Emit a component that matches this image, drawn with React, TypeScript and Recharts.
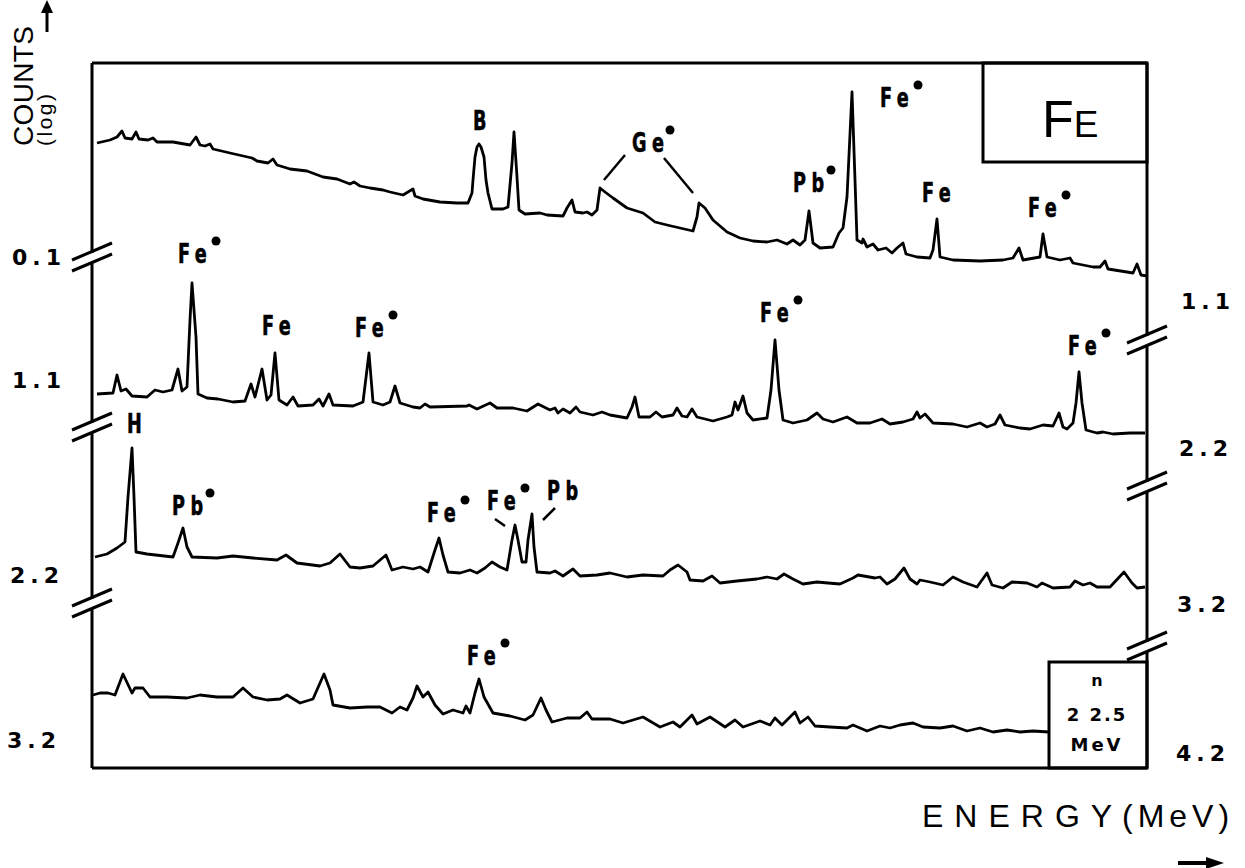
import React from 'react';
import { LineChart, Line, XAxis, YAxis, ReferenceLine, ReferenceArea, ReferenceDot } from 'recharts';

// channel axis (energy) and stacked log-count axis
const CHANNEL_MAX = 1055;
const COUNT_MAX = 705;

// each strip: [channel, log counts above the strip floor]
const strip1 = [
  [5, 137], [18, 140], [25, 143], [30, 149], [33, 142], [40, 141], [44, 148], [47, 141], [56, 140], [61, 142],
  [65, 138], [81, 138], [98, 135], [104, 143], [108, 135], [113, 134], [118, 136], [121, 131], [138, 127], [160, 122],
  [165, 119], [176, 117], [181, 121], [185, 115], [198, 111], [215, 109], [231, 103], [245, 101], [258, 96], [262, 98],
  [268, 94], [278, 92], [291, 90], [298, 88], [311, 85], [321, 91], [323, 84], [331, 81], [348, 78], [365, 77],
  [376, 77], [380, 87], [381, 100], [383, 123], [385, 133], [387, 136], [389, 133], [392, 123], [394, 100], [396, 87],
  [400, 71], [411, 71], [416, 73], [420, 117], [422, 148], [425, 103], [427, 70], [433, 66], [448, 67], [455, 65],
  [471, 64], [475, 72], [480, 80], [483, 68], [491, 67], [495, 68], [500, 65], [505, 70], [508, 92], [513, 88],
  [521, 82], [535, 72], [551, 67], [563, 58], [575, 55], [588, 52], [601, 49], [605, 63], [607, 77], [613, 72],
  [621, 60], [635, 48], [648, 42], [661, 39], [675, 38], [685, 40], [695, 36], [701, 40], [708, 35], [713, 40],
  [717, 69], [721, 37], [728, 32], [741, 33], [747, 47], [751, 52], [755, 83], [760, 188], [763, 100], [765, 40],
  [770, 37], [771, 41], [775, 33], [781, 36], [786, 30], [794, 32], [800, 27], [805, 32], [811, 37], [814, 26],
  [825, 23], [838, 22], [841, 30], [845, 61], [848, 23], [861, 20], [888, 19], [911, 20], [921, 22], [927, 32],
  [931, 20], [948, 23], [951, 46], [955, 23], [968, 20], [978, 22], [981, 17], [1001, 13], [1008, 13], [1013, 19],
  [1016, 11], [1035, 8], [1041, 7], [1045, 16], [1049, 5], [1055, 4],
];

const strip2 = [
  [5, 46], [21, 47], [25, 65], [29, 49], [34, 51], [40, 44], [55, 43], [63, 50], [71, 48], [80, 50],
  [86, 71], [90, 49], [95, 53], [98, 120], [100, 157], [104, 103], [106, 46], [115, 42], [126, 41], [141, 38],
  [153, 39], [159, 56], [163, 43], [170, 71], [175, 40], [179, 45], [183, 87], [187, 40], [195, 35], [201, 43],
  [206, 34], [221, 35], [227, 41], [231, 34], [237, 46], [241, 35], [261, 34], [271, 38], [277, 87], [281, 38],
  [291, 35], [298, 38], [303, 54], [308, 37], [321, 33], [328, 32], [333, 36], [338, 33], [375, 34], [377, 35],
  [385, 31], [398, 37], [405, 32], [421, 32], [435, 29], [446, 36], [458, 30], [463, 32], [466, 27], [471, 31],
  [478, 27], [484, 33], [488, 28], [501, 25], [510, 28], [518, 25], [535, 22], [540, 33], [543, 43], [547, 23],
  [558, 23], [564, 28], [570, 23], [581, 25], [585, 32], [590, 24], [595, 23], [600, 31], [605, 23], [621, 19],
  [635, 23], [640, 25], [643, 38], [646, 30], [651, 44], [655, 27], [661, 20], [675, 22], [679, 50], [683, 100],
  [687, 50], [691, 20], [701, 17], [715, 20], [725, 27], [731, 21], [741, 18], [755, 23], [765, 17], [778, 17],
  [790, 21], [798, 16], [811, 18], [821, 21], [825, 28], [828, 22], [833, 26], [841, 17], [861, 16], [875, 13],
  [888, 17], [895, 13], [903, 16], [908, 25], [913, 15], [928, 12], [938, 11], [951, 15], [961, 14], [967, 27],
  [971, 13], [975, 11], [981, 17], [984, 37], [987, 68], [990, 37], [994, 10], [1005, 7], [1011, 8], [1021, 6],
  [1038, 7], [1053, 7],
];

const strip3 = [
  [3, 33], [15, 36], [25, 42], [33, 48], [36, 93], [40, 142], [42, 93], [44, 38], [55, 36], [81, 33],
  [86, 47], [91, 62], [95, 43], [100, 33], [125, 32], [141, 34], [161, 32], [185, 30], [194, 35], [205, 27],
  [228, 24], [238, 27], [248, 36], [258, 23], [268, 22], [281, 24], [294, 35], [300, 20], [311, 23], [321, 21],
  [328, 23], [336, 18], [343, 40], [347, 52], [351, 35], [356, 18], [368, 17], [378, 20], [385, 17], [393, 22],
  [400, 28], [408, 23], [415, 20], [420, 50], [423, 65], [426, 50], [430, 28], [434, 28], [436, 50], [440, 76],
  [442, 43], [445, 18], [458, 17], [463, 19], [471, 14], [481, 21], [488, 14], [505, 15], [518, 17], [535, 13],
  [551, 15], [571, 14], [578, 20], [586, 25], [595, 18], [598, 10], [611, 9], [620, 14], [628, 7], [645, 9],
  [665, 11], [675, 13], [685, 11], [692, 16], [701, 11], [711, 6], [725, 8], [736, 7], [748, 6], [761, 12],
  [766, 15], [783, 12], [788, 13], [795, 6], [803, 11], [812, 22], [818, 11], [825, 6], [828, 10], [838, 8],
  [851, 5], [861, 13], [871, 8], [885, 3], [895, 17], [900, 5], [911, 2], [920, 8], [935, 7], [945, 3],
  [950, 7], [961, 2], [978, 3], [983, 9], [991, 5], [998, 7], [1005, 3], [1018, 3], [1032, 18], [1040, 7],
  [1045, 2], [1053, 3],
];

const strip4 = [
  [1, 45], [8, 47], [16, 47], [23, 45], [31, 66], [40, 47], [43, 52], [51, 52], [58, 43], [75, 43],
  [95, 42], [108, 45], [125, 43], [141, 43], [151, 52], [161, 43], [175, 40], [188, 41], [195, 45], [208, 37],
  [221, 41], [228, 57], [232, 66], [238, 50], [241, 35], [258, 32], [275, 33], [288, 33], [300, 27], [308, 33],
  [315, 30], [321, 42], [325, 54], [331, 43], [336, 48], [343, 35], [351, 26], [361, 30], [371, 27], [374, 34],
  [378, 27], [383, 47], [387, 61], [392, 43], [401, 27], [418, 24], [433, 20], [441, 25], [449, 42], [454, 30],
  [460, 18], [475, 22], [488, 22], [495, 28], [500, 21], [518, 21], [531, 17], [551, 23], [568, 13], [581, 18],
  [588, 13], [600, 25], [605, 16], [618, 23], [633, 13], [643, 20], [651, 13], [668, 19], [678, 15], [683, 22],
  [690, 15], [703, 28], [708, 17], [716, 23], [723, 14], [738, 13], [755, 12], [761, 15], [775, 9], [788, 14],
  [798, 12], [808, 15], [821, 17], [831, 13], [848, 12], [861, 14], [875, 9], [888, 12], [901, 8], [915, 10],
  [928, 8], [941, 9], [957, 8],
];

const STRIPS = [strip1, strip2, strip3, strip4];
const STRIP_OFFSETS = [488, 328, 178, 28];

// peak identifications: text, channel, count level of text baseline, excited state marker
const peakLabels = [
  { text: 'B', ch: 381, v: 638, star: false },
  { text: 'Ge', ch: 540, v: 616, star: true },
  { text: 'Pb', ch: 701, v: 576, star: true },
  { text: 'Fe', ch: 788, v: 661, star: true },
  { text: 'Fe', ch: 830, v: 566, star: false },
  { text: 'Fe', ch: 936, v: 551, star: true },
  { text: 'Fe', ch: 86, v: 505, star: true },
  { text: 'Fe', ch: 170, v: 433, star: false },
  { text: 'Fe', ch: 263, v: 431, star: true },
  { text: 'Fe', ch: 668, v: 446, star: true },
  { text: 'Fe', ch: 976, v: 413, star: true },
  { text: 'H', ch: 35, v: 335, star: false },
  { text: 'Pb', ch: 80, v: 253, star: true },
  { text: 'Fe', ch: 335, v: 246, star: true },
  { text: 'Fe', ch: 395, v: 258, star: true },
  { text: 'Pb', ch: 455, v: 268, star: false },
  { text: 'Fe', ch: 375, v: 103, star: true },
];

const leaderLines = [
  [[533, 613], [512, 588]],
  [[572, 610], [601, 575]],
  [[403, 249], [413, 242]],
  [[463, 260], [451, 248]],
];

const leftLevels = ['0.1', '1.1', '2.2', '3.2'];
const rightLevels = ['1.1', '2.2', '3.2', '4.2'];

const LEFT_LABEL_POS = [[12, 265], [12, 388], [10, 583], [7, 748]];
const RIGHT_LABEL_POS = [[1181, 309], [1179, 456], [1177, 612], [1176, 761]];
const LEFT_BREAKS = [257, 427, 603];
const RIGHT_BREAKS = [340, 486, 646];

const LABEL_FONT = "'DejaVu Sans', sans-serif";

const PeakLabel = ({ cx, cy, text, star }: any) => {
  const w = text.length === 1 ? 13 : 30;
  return (
    <g>
      <text
        transform={`translate(${cx} ${cy}) scale(0.68 1)`}
        fontFamily={LABEL_FONT}
        fontWeight="bold"
        fontSize={26}
        letterSpacing={8}
        fill="#000"
        stroke="#000"
        strokeWidth={0.6}
      >
        {text}
      </text>
      {star && <circle cx={cx + w + 8} cy={cy - 22} r={4.5} fill="#000" />}
    </g>
  );
};

const AxisBreak = ({ x, y }: { x: number; y: number }) => (
  <g>
    <rect x={x - 4} y={y - 4} width={8} height={9} fill="#fff" />
    <line x1={x - 20} y1={y + 3} x2={x + 20} y2={y - 14} stroke="#000" strokeWidth={3} />
    <line x1={x - 20} y1={y + 14} x2={x + 20} y2={y - 3} stroke="#000" strokeWidth={3} />
  </g>
);

export default function App() {
  const frame = { stroke: '#000', strokeWidth: 3 };
  return (
    <div style={{ position: 'absolute', left: 0, top: 0, width: 1245, height: 868, background: '#fff' }}>
      <LineChart width={1245} height={868} margin={{ top: 63, right: 98, bottom: 100, left: 92 }}>
        <XAxis type="number" dataKey="ch" domain={[0, CHANNEL_MAX]} allowDataOverflow hide />
        <YAxis type="number" domain={[0, COUNT_MAX]} allowDataOverflow hide />
        <ReferenceLine y={COUNT_MAX} {...frame} />
        <ReferenceLine y={0} {...frame} />
        <ReferenceLine x={0} {...frame} />
        <ReferenceLine x={CHANNEL_MAX} {...frame} />
        <ReferenceArea x1={891} x2={CHANNEL_MAX} y1={606} y2={COUNT_MAX} fill="#fff" fillOpacity={1} {...frame} />
        <ReferenceArea x1={957} x2={CHANNEL_MAX} y1={0} y2={106} fill="#fff" fillOpacity={1} {...frame} />
        {STRIPS.map((pts, i) => (
          <Line
            key={i}
            data={pts.map(([ch, c]) => ({ ch, v: c + STRIP_OFFSETS[i] }))}
            dataKey="v"
            type="linear"
            stroke="#000"
            strokeWidth={2.8}
            strokeLinejoin="round"
            dot={false}
            isAnimationActive={false}
          />
        ))}
        {leaderLines.map(([a, b], i) => (
          <ReferenceLine key={i} segment={[{ x: a[0], y: a[1] }, { x: b[0], y: b[1] }]} stroke="#000" strokeWidth={2.5} />
        ))}
        {peakLabels.map((l, i) => (
          <ReferenceDot
            key={i}
            x={l.ch}
            y={l.v}
            r={0}
            shape={(p: any) => <PeakLabel cx={p.cx} cy={p.cy} text={l.text} star={l.star} />}
          />
        ))}
        <ReferenceDot
          x={950}
          y={631}
          r={0}
          shape={(p: any) => (
            <text x={p.cx} y={p.cy} fontFamily="'Liberation Sans', Arial, sans-serif" fill="#000">
              <tspan fontSize={52}>F</tspan>
              <tspan fontSize={37}>E</tspan>
            </text>
          )}
        />
        <ReferenceDot
          x={1005}
          y={50}
          r={0}
          shape={(p: any) => (
            <g fontFamily={LABEL_FONT} fontWeight="bold" fill="#000" textAnchor="middle">
              <text x={p.cx} y={p.cy - 32} fontSize={16}>n</text>
              <text x={p.cx} y={p.cy + 3} fontSize={18} letterSpacing={2}>2 2.5</text>
              <text x={p.cx} y={p.cy + 33} fontSize={18} letterSpacing={3}>MeV</text>
            </g>
          )}
        />
      </LineChart>
      <svg width={1245} height={868} style={{ position: 'absolute', left: 0, top: 0, pointerEvents: 'none' }}>
        {LEFT_BREAKS.map((y) => <AxisBreak key={'l' + y} x={92} y={y} />)}
        {RIGHT_BREAKS.map((y) => <AxisBreak key={'r' + y} x={1147} y={y} />)}
        <g fontFamily="'DejaVu Sans', sans-serif" fontWeight="bold" fontSize={22} letterSpacing={5} fill="#000">
          {leftLevels.map((t, i) => (
            <text key={'ll' + i} x={LEFT_LABEL_POS[i][0]} y={LEFT_LABEL_POS[i][1]}>{t}</text>
          ))}
          {rightLevels.map((t, i) => (
            <text key={'rl' + i} x={RIGHT_LABEL_POS[i][0]} y={RIGHT_LABEL_POS[i][1]}>{t}</text>
          ))}
        </g>
        <g fontFamily="'Liberation Sans', Arial, sans-serif" fill="#000">
          <text transform="translate(33,146) rotate(-90)" fontSize={28} textLength={120} lengthAdjust="spacing">COUNTS</text>
          <text transform="translate(52,146) rotate(-90)" fontSize={21} textLength={52} lengthAdjust="spacing">(log)</text>
          <line x1={47} y1={32} x2={47} y2={10} stroke="#000" strokeWidth={3} />
          <polygon points="41,13 53,13 47,0" fill="#000" />
          <text x={922} y={827} fontSize={32}>
            <tspan letterSpacing={11}>ENERGY</tspan>
            <tspan x={1122} letterSpacing={5}>(MeV)</tspan>
          </text>
          <line x1={1178} y1={863} x2={1210} y2={863} stroke="#000" strokeWidth={4} />
          <polygon points="1206,857 1224,863 1206,869" fill="#000" />
        </g>
      </svg>
    </div>
  );
}
